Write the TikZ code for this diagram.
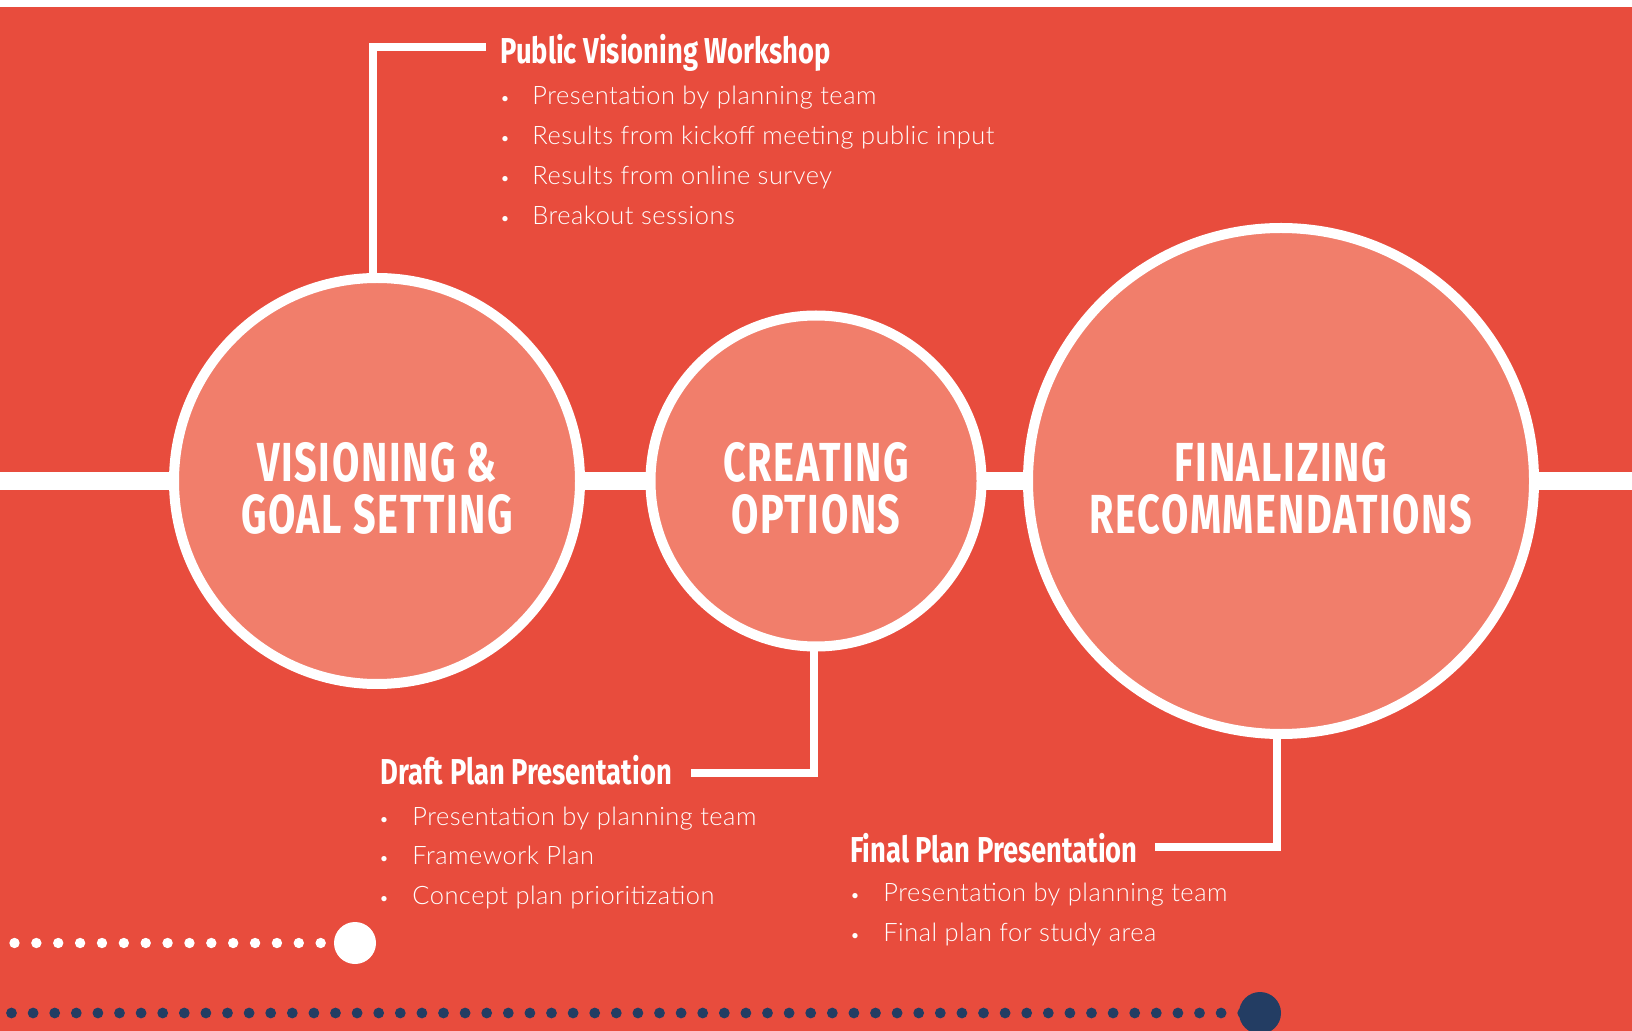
\documentclass[tikz,border=0pt]{standalone}
\usepackage{fontspec}
\IfFontExistsTF{Lato Light}{\newfontfamily\bodyfont{Lato Light}[LetterSpace=2]}{\newfontfamily\bodyfont{Lato}[LetterSpace=2]}
\newfontfamily\headfont{Fira Sans Bold}[FakeStretch=0.76]
\newfontfamily\circfont{Fira Sans Bold}[FakeStretch=0.72,LetterSpace=3]
\definecolor{bg}{HTML}{E84C3D}
\definecolor{circfill}{HTML}{F17E6B}
\definecolor{navy}{HTML}{233D63}
\tikzset{
  phase/.style={circle,draw=white,fill=circfill,line width=5pt,inner sep=0pt},
  circtext/.style={text=white,font=\circfont\fontsize{27.5}{30}\selectfont,inner sep=0pt,anchor=base},
  headtext/.style={text=white,font=\headfont\fontsize{18}{20}\selectfont,inner sep=0pt,anchor=base west},
  bodytext/.style={text=white,font=\bodyfont\fontsize{12.7}{14}\selectfont,inner sep=0pt,anchor=base west},
  bultext/.style={text=white,font=\bodyfont\fontsize{9}{10}\selectfont,inner sep=0pt,anchor=base},
  wline/.style={draw=white,line width=4pt,line join=miter},
  mainline/.style={draw=white,line width=9pt},
}
\begin{document}
\begin{tikzpicture}[x=0.5pt,y=-0.5pt]
\useasboundingbox (0,0) rectangle (1632,1031);
\fill[white] (0,0) rectangle (1632,1031);
\fill[bg] (0,7) rectangle (1632,1031);
% main line
\coordinate (L) at (0,481);
\coordinate (R) at (1632,481);
\draw[mainline] (L) -- (R);
% connector coordinates
\coordinate (pvx) at (373,47);
\coordinate (pvend) at (486,47);
\coordinate (dpx) at (814,773);
\coordinate (dpend) at (691,773);
\coordinate (fpx) at (1277,847);
\coordinate (fpend) at (1155,847);
\coordinate (c1c) at (377,481);
\coordinate (c2c) at (816,481);
\coordinate (c3c) at (1281,481);
\draw[wline] (c1c -| pvx) |- (pvend);
\draw[wline] (c2c -| dpx) |- (dpend);
\draw[wline] (c3c -| fpx) |- (fpend);
% circles
\node[phase,minimum size=203pt] (c1) at (c1c) {};
\node[phase,minimum size=165.5pt] (c2) at (c2c) {};
\node[phase,minimum size=253pt] (c3) at (c3c) {};
\node[circtext] (c1a) at (377,482) {VISIONING \&};
\node[circtext] (c1b) at (377,534) {GOAL SETTING};
\node[circtext] (c2a) at (816,482) {CREATING};
\node[circtext] (c2b) at (816,534) {OPTIONS};
\node[circtext] (c3a) at (1281,482) {FINALIZING};
\node[circtext] (c3b) at (1281,534) {RECOMMENDATIONS};
% Public visioning
\node[headtext] (pvh) at (500,64) {Public Visioning Workshop};
\foreach \t [count=\i from 0] in {Presentation by planning team,Results from kickoff meeting public input,Results from online survey,Breakout sessions}{
  \node[bultext] (pvb\i) at (505,105+40*\i) {•};
  \node[bodytext] (pvt\i) at (532,105+40*\i) {\t};
}
% Draft plan
\node[headtext] (dph) at (380,784) {Draft Plan Presentation};
\foreach \t [count=\i from 0] in {Presentation by planning team,Framework Plan,Concept plan prioritization}{
  \node[bultext] (dpb\i) at (384,825+39.5*\i) {•};
  \node[bodytext] (dpt\i) at (412,825+39.5*\i) {\t};
}
% Final plan
\node[headtext] (fph) at (850,862) {Final Plan Presentation};
\foreach \t [count=\i from 0] in {Presentation by planning team,Final plan for study area}{
  \node[bultext] (fpb\i) at (855,901+40*\i) {•};
  \node[bodytext] (fpt\i) at (883,901+40*\i) {\t};
}
% dots
\foreach \k in {0,...,14}{\fill[white] (14.5+21.87*\k,943) circle[radius=2.6pt];}
\fill[white] (355,943) circle[radius=10.5pt];
\foreach \k in {0,...,57}{\fill[navy] (11.5+21.6*\k,1013) circle[radius=2.7pt];}
\fill[navy] (1260,1013) circle[radius=10.5pt];
\end{tikzpicture}
\end{document}
